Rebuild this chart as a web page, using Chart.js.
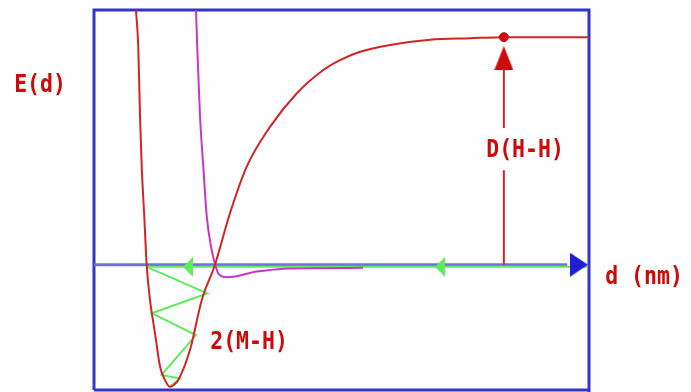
<!DOCTYPE html>
<html>
<head>
<meta charset="utf-8">
<title>E(d)</title>
<script src="https://cdn.jsdelivr.net/npm/chart.js@4.4.0/dist/chart.umd.min.js"></script>
<style>
  html, body { margin: 0; padding: 0; background: #fff; }
  #wrap { width: 691px; height: 392px; }
</style>
</head>
<body>
<div id="wrap"><canvas id="potential"></canvas></div>
<script>
// H-H potential curve: d in nm, E in kJ/mol
const hhD = [0.0424, 0.0447, 0.0465, 0.0482, 0.0508, 0.0532, 0.0566, 0.0616, 0.0667, 0.0717, 0.0768, 0.0808, 0.0851, 0.0970, 0.1088, 0.1222, 0.1374, 0.1543, 0.1778, 0.2047, 0.2316, 0.2485, 0.2687, 0.2990, 0.3394, 0.3798, 0.4140, 0.5000];
const hhE = [488, 418, 284, 188, 92, 0, -68, -131, -195, -221, -234, -230, -221, -163, -68, 0, 99, 188, 264, 328, 373, 392, 408, 421, 431, 434, 436, 436];

// M-H curve
const mhD = [0.1030, 0.1044, 0.1071, 0.1104, 0.1139, 0.1189, 0.1222, 0.1256, 0.1340, 0.1441, 0.1643, 0.1778, 0.1980, 0.2717];
const mhE = [488, 411, 284, 188, 92, 28, 2, -17, -24, -22, -13, -10, -7, -6];

// green path: approach line and the zigzag down into the well
const levelD = [0.0532, 0.4990];
const levelE = [-4, -4];
const zigD = [0.0532, 0.1144, 0.0583, 0.1030, 0.0683, 0.0869, 0.0768];
const zigE = [-4, -55, -93, -135, -211, -218, -234];
const greenArrowD = [0.0949, 0.3495];

// dissociation energy marker
const dissD = 0.414;
const dissE = 436;
const dissLineLow = [0, 181];
const dissLineHigh = [262, 373];
const dissArrowE = 396;

// axis
const axisD = [0, 0.478];
const axisArrowD = 0.4899;

// labels
const labelText = ["E(d)", "D(H-H)", "2(M-H)", "d (nm)"];
const labelD = [-0.0545, 0.4354, 0.1566, 0.5556];
const labelE = [344, 218, -149, -24];

const RED = "#d22424";
const TEXT_RED = "#cc0a0a";
const MAGENTA = "#c935c9";
const GREEN = "#5cec5c";
const BLUE = "#3434c6";
const AXIS_BLUE = "#7070e0";

const pts = (xs, ys) => xs.map((x, i) => ({ x: x, y: ys[i] }));

function arrowHead(w, h, dir, color) {
  const c = document.createElement("canvas");
  c.width = w;
  c.height = h;
  const g = c.getContext("2d");
  g.fillStyle = color;
  g.beginPath();
  if (dir === "left") {
    g.moveTo(0, h / 2); g.lineTo(w, 0); g.lineTo(w, h);
  } else if (dir === "right") {
    g.moveTo(w, h / 2); g.lineTo(0, 0); g.lineTo(0, h);
  } else {
    g.moveTo(w / 2, 0); g.lineTo(w, h); g.lineTo(0, h);
  }
  g.closePath();
  g.fill();
  return c;
}

const frame = {
  id: "frame",
  beforeDatasetsDraw(chart) {
    const { ctx, chartArea: a } = chart;
    ctx.save();
    ctx.strokeStyle = BLUE;
    ctx.lineWidth = 3;
    ctx.beginPath();
    ctx.moveTo(a.left, a.bottom);
    ctx.lineTo(a.left, a.top);
    ctx.lineTo(a.right, a.top);
    ctx.lineTo(a.right, chart.height);
    ctx.moveTo(a.left, a.bottom);
    ctx.lineTo(a.right, a.bottom);
    ctx.stroke();
    ctx.restore();
  }
};

const labels = {
  id: "labels",
  afterDatasetsDraw(chart) {
    const { ctx, scales } = chart;
    ctx.save();
    ctx.fillStyle = TEXT_RED;
    ctx.font = "bold 25px 'DejaVu Sans Mono'";
    ctx.textAlign = "center";
    ctx.textBaseline = "middle";
    labelText.forEach((t, i) => {
      const x = scales.x.getPixelForValue(labelD[i]);
      const y = scales.y.getPixelForValue(labelE[i]);
      ctx.save();
      ctx.translate(x, y);
      ctx.scale(0.86, 1);
      ctx.fillText(t, 0, 0);
      ctx.restore();
    });
    ctx.restore();
  }
};

const line = (data, color, width, order) => ({
  data: data,
  showLine: true,
  borderColor: color,
  borderWidth: width,
  pointRadius: 0,
  tension: 0,
  order: order
});

const curve = (data, color, order) =>
  Object.assign(line(data, color, 2, order), { cubicInterpolationMode: "monotone" });

new Chart(document.getElementById("potential"), {
  type: "scatter",
  data: {
    datasets: [
      line(pts(axisD, [0, 0]), AXIS_BLUE, 3, 5),
      line(pts(levelD, levelE), GREEN, 2, 4),
      line(pts(zigD, zigE), GREEN, 2, 4),
      curve(pts(mhD, mhE), MAGENTA, 3),
      curve(pts(hhD, hhE), RED, 2),
      line(pts([dissD, dissD], dissLineLow), RED, 2, 2),
      line(pts([dissD, dissD], dissLineHigh), RED, 2, 2),
      {
        data: greenArrowD.map(d => ({ x: d, y: -4 })),
        pointStyle: arrowHead(10, 20, "left", GREEN),
        pointRadius: 10,
        order: 1
      },
      {
        data: [{ x: axisArrowD, y: 0 }],
        pointStyle: arrowHead(18, 24, "right", "#2020d0"),
        pointRadius: 10,
        order: 1
      },
      {
        data: [{ x: dissD, y: dissArrowE }],
        pointStyle: arrowHead(19, 24, "up", "#cc0a0a"),
        pointRadius: 10,
        order: 1
      },
      {
        data: [{ x: dissD, y: dissE }],
        pointStyle: "circle",
        pointRadius: 4.5,
        backgroundColor: "#cc0a0a",
        borderColor: "#cc0a0a",
        order: 1
      }
    ]
  },
  options: {
    responsive: true,
    maintainAspectRatio: false,
    animation: false,
    layout: { autoPadding: false, padding: { left: 94, right: 102, top: 10, bottom: 2 } },
    plugins: {
      legend: { display: false },
      tooltip: { enabled: false }
    },
    scales: {
      x: { type: "linear", min: 0, max: 0.5, display: false },
      y: { type: "linear", min: -240, max: 488, display: false }
    }
  },
  plugins: [frame, labels]
});
</script>
</body>
</html>
